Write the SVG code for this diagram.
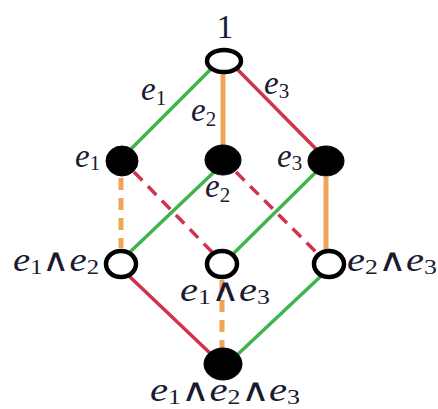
<svg xmlns="http://www.w3.org/2000/svg" width="438" height="409" viewBox="0 0 438 409">
<style>
.g{stroke:#3fb450;stroke-width:3.5;fill:none;stroke-linecap:round}
.r{stroke:#d2334c;stroke-width:3.5;fill:none;stroke-linecap:round}
.o{stroke:#f0a458;stroke-width:5;fill:none}
.d{stroke-dasharray:12 8;stroke-linecap:butt}
.open{fill:#fff;stroke:#000;stroke-width:4.5}
.full{fill:#000;stroke:#000;stroke-width:1}
text{font-family:"Liberation Serif","DejaVu Serif",serif;font-style:italic;fill:#1a1a30;font-size:33px}
.s{font-size:21px;font-style:normal}
.n{font-style:normal}
.w{font-style:normal;font-size:32px;font-family:"DejaVu Sans",sans-serif;font-weight:200}
</style>
<g id="connectors">
<line class="g" x1="210" y1="70" x2="130" y2="150"/>
<line class="o" x1="223" y1="72" x2="223" y2="146"/>
<line class="r" x1="238" y1="70" x2="316" y2="149"/>
<line class="o d" x1="121" y1="178" x2="121" y2="248"/>
<line class="r d" x1="134" y1="172" x2="212" y2="252"/>
<line class="g" x1="213" y1="173" x2="130" y2="252"/>
<line class="r d" x1="236" y1="172" x2="316" y2="252"/>
<line class="g" x1="315" y1="173" x2="234" y2="253"/>
<line class="o" x1="326" y1="177" x2="326" y2="249"/>
<line class="r" x1="129" y1="276" x2="212" y2="355"/>
<line class="o d" x1="222" y1="280" x2="222" y2="348"/>
<line class="g" x1="320" y1="277" x2="236" y2="356"/>
</g>
<g id="n1"><ellipse class="open" cx="224" cy="61" rx="17" ry="11"/><text class="n" x="225" y="38" text-anchor="middle" font-size="34">1</text></g>
<g id="e1"><ellipse class="full" cx="122" cy="161" rx="16" ry="15"/><text x="75" y="167">e<tspan class="s" dy="3">1</tspan></text></g>
<g id="e2"><ellipse class="full" cx="223" cy="160" rx="18" ry="15"/><text x="205" y="197">e<tspan class="s" dy="5">2</tspan></text></g>
<g id="e3"><ellipse class="full" cx="326" cy="161" rx="18" ry="15"/><text x="277" y="167">e<tspan class="s" dy="3">3</tspan></text></g>
<g id="e1e2"><ellipse class="open" cx="121" cy="264" rx="15" ry="13"/><text x="13" y="271" textLength="86" lengthAdjust="spacingAndGlyphs">e<tspan class="s" dy="3">1</tspan><tspan class="w" dy="-3">∧</tspan>e<tspan class="s" dy="3">2</tspan></text></g>
<g id="e1e3"><ellipse class="open" cx="222" cy="264" rx="15" ry="13"/><text x="180" y="301" textLength="90" lengthAdjust="spacingAndGlyphs">e<tspan class="s" dy="3">1</tspan><tspan class="w" dy="-3">∧</tspan>e<tspan class="s" dy="3">3</tspan></text></g>
<g id="e2e3"><ellipse class="open" cx="329" cy="264" rx="15" ry="13"/><text x="347" y="271" textLength="90" lengthAdjust="spacingAndGlyphs">e<tspan class="s" dy="3">2</tspan><tspan class="w" dy="-3">∧</tspan>e<tspan class="s" dy="3">3</tspan></text></g>
<g id="e123"><ellipse class="full" cx="223" cy="364" rx="19" ry="16"/><text x="150" y="401" textLength="150" lengthAdjust="spacingAndGlyphs">e<tspan class="s" dy="3">1</tspan><tspan class="w" dy="-3">∧</tspan>e<tspan class="s" dy="3">2</tspan><tspan class="w" dy="-3">∧</tspan>e<tspan class="s" dy="3">3</tspan></text></g>
<g id="labels">
<text x="141" y="100">e<tspan class="s" dy="5">1</tspan></text>
<text x="191" y="121">e<tspan class="s" dy="5">2</tspan></text>
<text x="264" y="94">e<tspan class="s" dy="4">3</tspan></text>
</g>
</svg>
